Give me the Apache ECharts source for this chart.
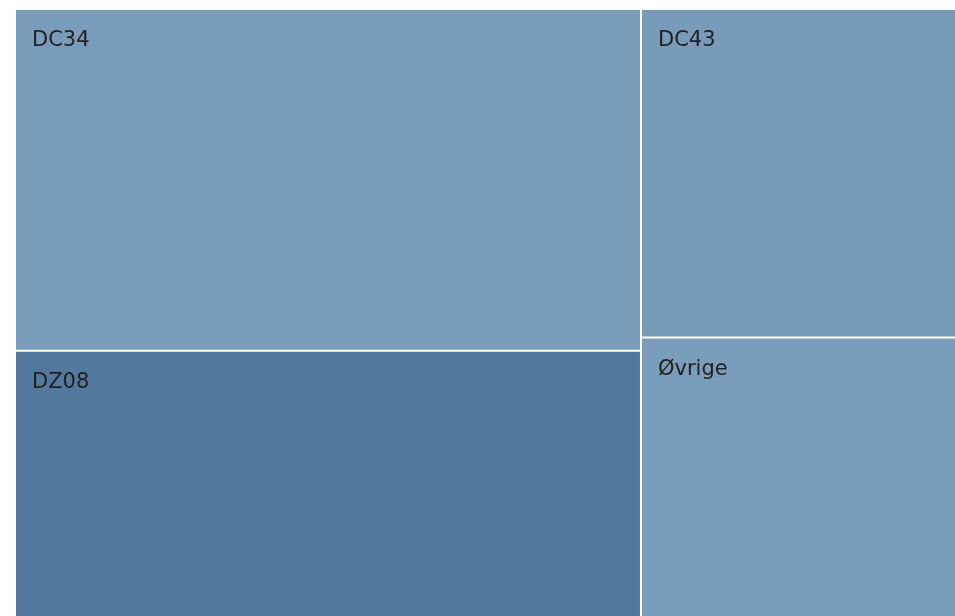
<!DOCTYPE html>
<html>
<head>
<meta charset="utf-8">
<style>
html,body{margin:0;padding:0;background:#fff;}
#chart{width:955px;height:616px;}
</style>
<script src="https://cdn.jsdelivr.net/npm/echarts@6/dist/echarts.min.js"></script>
</head>
<body>
<div id="chart"></div>
<script>
var names = ['DC34', 'DZ08', 'DC43', 'Øvrige'];
var values = [212160, 165984, 103005, 87885];
var colors = ['#789cb9', '#537a9e', '#779bb8', '#799dba'];

var chart = echarts.init(document.getElementById('chart'));
var data = names.map(function (n, i) {
  return { name: n, value: values[i], itemStyle: { color: colors[i] } };
});
chart.setOption({
  animation: false,
  series: [{
    type: 'treemap',
    left: 14, top: 8, right: -3, bottom: -3,
    roam: false,
    nodeClick: false,
    breadcrumb: { show: false },
    squareRatio: 0.5 * (1 + Math.sqrt(5)),
    itemStyle: { borderColor: '#fff', borderWidth: 1, gapWidth: 0 },
    label: {
      show: true,
      position: [11, 15],
      fontFamily: 'DejaVu Sans',
      fontSize: 21,
      color: '#222',
      formatter: '{b}'
    },
    upperLabel: { show: false },
    data: data
  }]
});
</script>
</body>
</html>
